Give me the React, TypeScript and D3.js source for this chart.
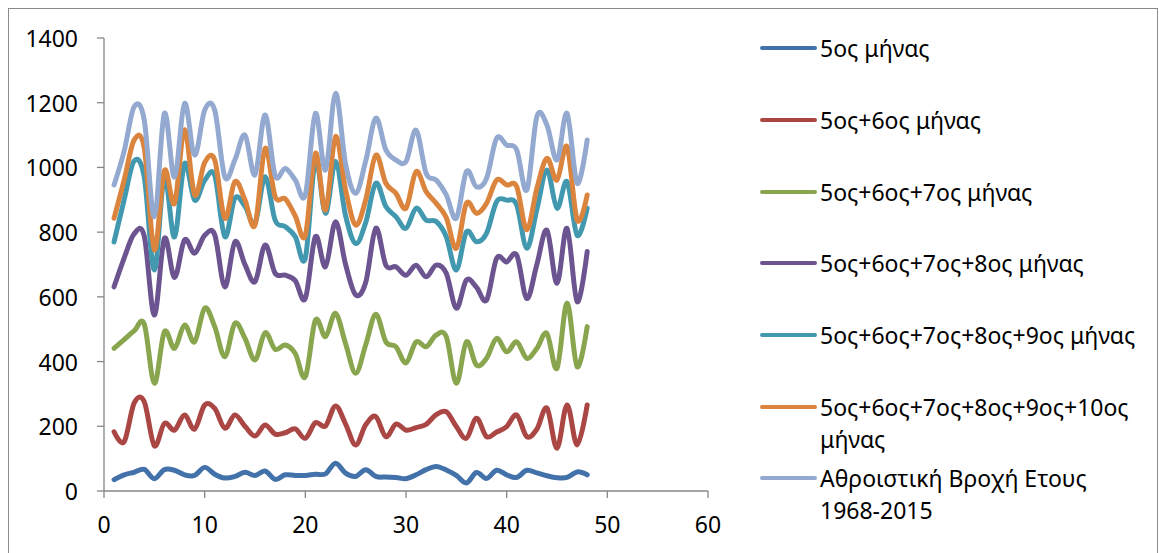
import React from "react";
import * as d3 from "d3";

const xValues = d3.range(1, 49);

const seriesNames = [
  "5ος μήνας",
  "5ος+6ος μήνας",
  "5ος+6ος+7ος μήνας",
  "5ος+6ος+7ος+8ος μήνας",
  "5ος+6ος+7ος+8ος+9ος μήνας",
  "5ος+6ος+7ος+8ος+9ος+10ος μήνας",
  "Αθροιστική Βροχή Ετους 1968-2015",
];

const legendLines = [
  ["5ος μήνας"],
  ["5ος+6ος μήνας"],
  ["5ος+6ος+7ος μήνας"],
  ["5ος+6ος+7ος+8ος μήνας"],
  ["5ος+6ος+7ος+8ος+9ος μήνας"],
  ["5ος+6ος+7ος+8ος+9ος+10ος", "μήνας"],
  ["Αθροιστική Βροχή Ετους", "1968-2015"],
];

const colors = ["#4372AA", "#AA4643", "#89A54E", "#6B548F", "#4198AF", "#DB843D", "#93A9CF"];

const may = [35, 50, 58, 67, 38, 66, 64, 50, 48, 73, 52, 40, 45, 58, 48, 62, 36, 50, 48, 48, 52, 53, 86, 55, 45, 66, 45, 43, 42, 38, 50, 66, 76, 65, 48, 25, 57, 39, 64, 50, 42, 64, 56, 47, 41, 42, 59, 50];
const mayJun = [183, 152, 272, 276, 140, 209, 188, 235, 191, 266, 255, 194, 235, 200, 170, 204, 176, 180, 192, 163, 211, 201, 263, 207, 142, 205, 230, 168, 207, 188, 196, 206, 236, 245, 199, 163, 225, 168, 182, 199, 235, 168, 191, 256, 132, 266, 142, 266];
const mayJul = [441, 468, 495, 516, 333, 492, 441, 513, 461, 565, 508, 415, 518, 472, 405, 489, 438, 451, 425, 353, 528, 477, 549, 455, 364, 452, 546, 461, 446, 396, 461, 446, 482, 477, 333, 461, 389, 410, 472, 430, 461, 410, 441, 487, 379, 580, 384, 508];
const mayAug = [631, 720, 795, 788, 544, 781, 660, 776, 735, 790, 792, 631, 770, 700, 647, 760, 673, 667, 650, 595, 786, 693, 832, 700, 606, 645, 812, 698, 693, 667, 698, 662, 698, 673, 565, 652, 630, 590, 719, 708, 729, 595, 700, 806, 642, 812, 585, 740];
const maySep = [770, 900, 1020, 970, 683, 971, 785, 1012, 899, 960, 975, 786, 905, 880, 827, 971, 837, 817, 786, 720, 1023, 858, 1018, 850, 765, 830, 951, 879, 848, 812, 874, 837, 833, 786, 683, 801, 770, 796, 894, 899, 884, 750, 870, 992, 874, 956, 790, 874];
const mayOct = [843, 961, 1085, 1060, 745, 990, 889, 1116, 915, 1015, 1023, 843, 956, 900, 822, 1059, 910, 903, 850, 790, 1044, 868, 1095, 930, 822, 900, 1038, 951, 920, 874, 987, 925, 889, 845, 750, 889, 858, 889, 961, 946, 940, 807, 935, 1028, 961, 1064, 837, 915];
const annual = [946, 1050, 1188, 1146, 848, 1167, 970, 1198, 1038, 1177, 1177, 971, 1023, 1100, 977, 1162, 975, 997, 961, 915, 1167, 992, 1229, 1010, 920, 1020, 1152, 1054, 1023, 1018, 1115, 982, 961, 915, 843, 987, 940, 966, 1090, 1069, 1054, 930, 1157, 1131, 1023, 1167, 951, 1085];

const seriesValues = [may, mayJun, mayJul, mayAug, maySep, mayOct, annual];

const xTicks = [0, 10, 20, 30, 40, 50, 60];
const yTicks = [0, 200, 400, 600, 800, 1000, 1200, 1400];

const FONT = "'Noto Sans', 'Open Sans', sans-serif";

export default function App() {
  const left = 104, right = 708, top = 38, bottom = 491;
  const x = d3.scaleLinear().domain([0, 60]).range([left, right]);
  const y = d3.scaleLinear().domain([0, 1400]).range([bottom, top]);
  const line = d3
    .line<number>()
    .x((_, i) => x(xValues[i]))
    .y((d) => y(d))
    .curve(d3.curveCardinal.tension(0));

  const axisColor = "#868686";
  const legendY = [48, 120, 192, 263, 335, 407, 478];

  return (
    <svg
      width={1159}
      height={553}
      style={{ position: "absolute", left: 0, top: 0, background: "#fff" }}
    >
      <rect x={8.5} y={8.5} width={1149} height={560} fill="#fff" stroke="#8a8a8a" strokeWidth={1} />
      <line x1={left} x2={left} y1={top} y2={bottom} stroke={axisColor} strokeWidth={1.3} />
      <line x1={left} x2={right} y1={bottom} y2={bottom} stroke={axisColor} strokeWidth={1.3} />
      {yTicks.map((t) => (
        <g key={"y" + t}>
          <line x1={left - 7} x2={left} y1={y(t)} y2={y(t)} stroke={axisColor} strokeWidth={1.3} />
          <text
            x={78}
            y={y(t)}
            textAnchor="end"
            dominantBaseline="central"
            fontFamily={FONT}
            fontSize={23}
            fill="#000"
          >
            {t}
          </text>
        </g>
      ))}
      {xTicks.map((t) => (
        <g key={"x" + t}>
          <line x1={x(t)} x2={x(t)} y1={bottom} y2={bottom + 7} stroke={axisColor} strokeWidth={1.3} />
          <text
            x={x(t)}
            y={524}
            textAnchor="middle"
            dominantBaseline="central"
            fontFamily={FONT}
            fontSize={23}
            fill="#000"
          >
            {t}
          </text>
        </g>
      ))}
      {seriesValues.map((vals, i) => (
        <path
          key={seriesNames[i]}
          d={line(vals) || ""}
          fill="none"
          stroke={colors[i]}
          strokeWidth={5}
          strokeLinejoin="round"
          strokeLinecap="round"
        />
      ))}
      {legendLines.map((lines, i) => (
        <g key={"lg" + i}>
          <line
            x1={762}
            x2={815}
            y1={legendY[i]}
            y2={legendY[i]}
            stroke={colors[i]}
            strokeWidth={4}
            strokeLinecap="round"
          />
          {lines.map((ln, j) => (
            <text
              key={j}
              x={820}
              y={legendY[i] + j * 32}
              dominantBaseline="central"
              fontFamily={FONT}
              fontSize={23}
              fill="#000"
            >
              {ln}
            </text>
          ))}
        </g>
      ))}
    </svg>
  );
}
